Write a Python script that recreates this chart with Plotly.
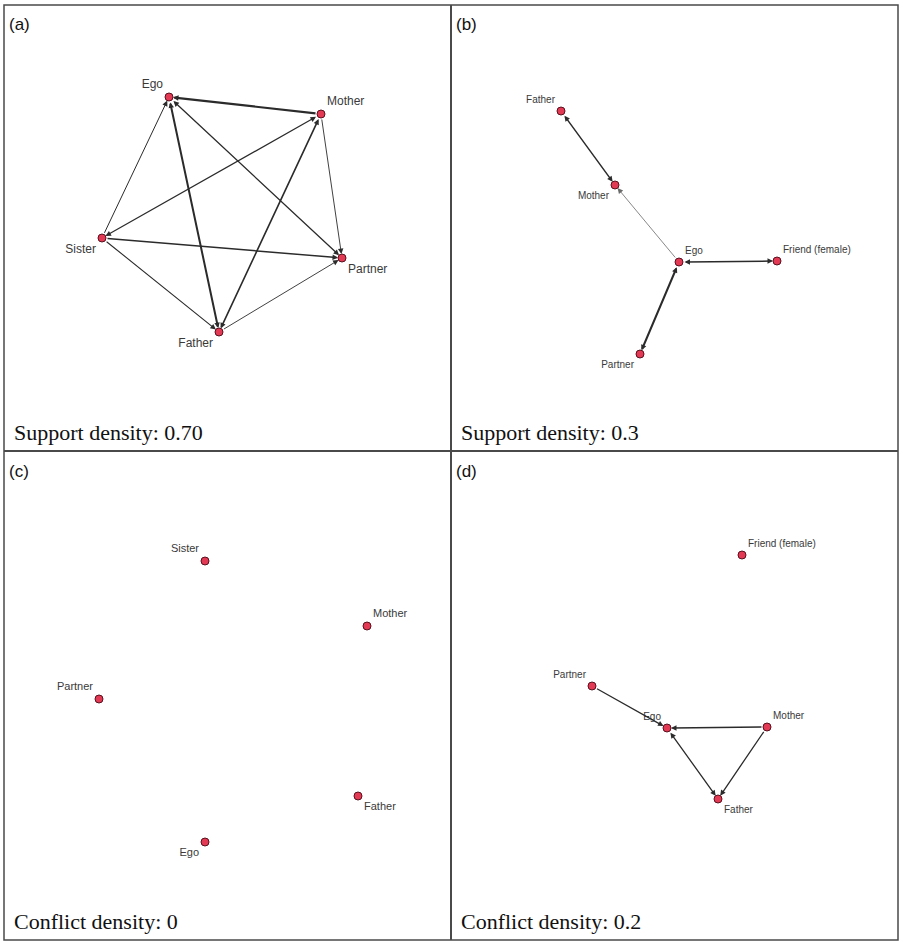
import plotly.graph_objects as go

# ---------------- data ----------------
# node layout coordinates (local pixel units inside each panel, y downward)
a_nodes = ["Ego", "Mother", "Sister", "Partner", "Father"]
a_x = [165, 317, 98, 338, 215]
a_y = [92, 109, 233, 253, 327]
a_src = ["Mother", "Sister", "Ego", "Ego", "Mother", "Mother", "Mother", "Sister", "Sister", "Father"]
a_tgt = ["Ego", "Ego", "Father", "Partner", "Sister", "Father", "Partner", "Partner", "Father", "Partner"]
a_mutual = [False, False, True, True, True, True, False, False, False, False]
a_weight = [2.2, 1.0, 2.0, 1.3, 1.2, 1.6, 0.9, 1.5, 1.1, 0.9]

b_nodes = ["Father", "Mother", "Ego", "Friend (female)", "Partner"]
b_x = [110, 164, 228, 326, 189]
b_y = [106, 180, 257, 256, 349]
b_src = ["Father", "Ego", "Ego", "Ego"]
b_tgt = ["Mother", "Mother", "Friend (female)", "Partner"]
b_mutual = [True, False, True, True]
b_weight = [1.5, 0.8, 1.5, 2.0]

c_nodes = ["Sister", "Mother", "Partner", "Father", "Ego"]
c_x = [201, 363, 95, 354, 201]
c_y = [110, 175, 248, 345, 391]
c_src, c_tgt, c_mutual, c_weight = [], [], [], []

d_nodes = ["Friend (female)", "Partner", "Ego", "Mother", "Father"]
d_x = [291, 141, 216, 316, 267]
d_y = [104, 235, 277, 276, 348]
d_src = ["Partner", "Mother", "Ego", "Mother"]
d_tgt = ["Ego", "Ego", "Father", "Father"]
d_mutual = [False, False, True, False]
d_weight = [1.3, 1.5, 1.3, 1.3]

panel_tags = ["(a)", "(b)", "(c)", "(d)"]
density_texts = ["Support density: 0.70", "Support density: 0.3",
                 "Conflict density: 0", "Conflict density: 0.2"]

# ---------------- layout / styling ----------------
W, H = 900, 941
# panel boxes in page pixels: left, top, right, bottom
boxes = [(4, 5, 451, 451), (451, 5, 898, 451), (4, 451, 451, 940), (451, 451, 898, 940)]
label_pos = [
    ["top left", "top right", "bottom left", "bottom right", "bottom left"],
    ["top left", "bottom left", "top right", "top right", "bottom left"],
    ["top left", "top right", "top left", "bottom right", "bottom left"],
    ["top right", "top left", "top left", "top right", "bottom right"],
]
label_size = [12, 10, 11, 10]

panels = [
    (a_nodes, a_x, a_y, a_src, a_tgt, a_mutual, a_weight),
    (b_nodes, b_x, b_y, b_src, b_tgt, b_mutual, b_weight),
    (c_nodes, c_x, c_y, c_src, c_tgt, c_mutual, c_weight),
    (d_nodes, d_x, d_y, d_src, d_tgt, d_mutual, d_weight),
]

SANS = "Liberation Sans, Arial, sans-serif"
SERIF = "Liberation Serif, Times New Roman, serif"
NODE_FILL = "#e23a55"
NODE_LINE = "#5c0f1c"
EDGE_COL = "#2b2b2b"

fig = go.Figure()
annotations = []
layout_axes = {}

for i, (nodes, xs, ys, src, tgt, mut, wts) in enumerate(panels):
    n = i + 1
    xa = "x" if n == 1 else f"x{n}"
    ya = "y" if n == 1 else f"y{n}"
    l, t, r, b = boxes[i]
    pw, ph = r - l, b - t
    layout_axes["xaxis" if n == 1 else f"xaxis{n}"] = dict(
        domain=[l / W, r / W], range=[0, pw], visible=False, fixedrange=True,
        anchor=ya)
    layout_axes["yaxis" if n == 1 else f"yaxis{n}"] = dict(
        domain=[1 - b / H, 1 - t / H], range=[ph, 0], visible=False, fixedrange=True,
        anchor=xa)

    idx = {name: k for k, name in enumerate(nodes)}
    for s, tg, m, w in zip(src, tgt, mut, wts):
        annotations.append(dict(
            x=xs[idx[tg]], y=ys[idx[tg]], ax=xs[idx[s]], ay=ys[idx[s]],
            xref=xa, yref=ya, axref=xa, ayref=ya, text="", showarrow=True,
            arrowhead=2, startarrowhead=2, arrowside="end+start" if m else "end",
            arrowwidth=w, arrowsize=1.1 / w, startarrowsize=1.1 / w,
            arrowcolor=EDGE_COL if w > 0.85 else "#6a6a6a",
            standoff=4, startstandoff=4))

    fig.add_trace(go.Scatter(
        x=xs, y=ys, xaxis=xa, yaxis=ya, mode="markers+text",
        text=nodes, textposition=label_pos[i],
        textfont=dict(family=SANS, size=label_size[i], color="#3a3a3a"),
        marker=dict(size=8, color=NODE_FILL, line=dict(color=NODE_LINE, width=1)),
        hoverinfo="text", showlegend=False, cliponaxis=False))

    # panel tag and density caption
    annotations.append(dict(
        x=(l + 3) / W, y=1 - (t + 20) / H, xref="paper", yref="paper",
        xanchor="left", yanchor="middle", text=panel_tags[i], showarrow=False,
        font=dict(family=SANS, size=17, color="#111111")))
    annotations.append(dict(
        x=(l + 8) / W, y=1 - (b - 19) / H, xref="paper", yref="paper",
        xanchor="left", yanchor="middle", text=density_texts[i], showarrow=False,
        font=dict(family=SERIF, size=22, color="#111111")))

shapes = [
    dict(type="rect", xref="paper", yref="paper", x0=4 / W, x1=898 / W,
         y0=1 - 940 / H, y1=1 - 5 / H, line=dict(color="#4a4a4a", width=1.5)),
    dict(type="line", xref="paper", yref="paper", x0=451 / W, x1=451 / W,
         y0=1 - 940 / H, y1=1 - 5 / H, line=dict(color="#4a4a4a", width=2)),
    dict(type="line", xref="paper", yref="paper", x0=4 / W, x1=898 / W,
         y0=1 - 451 / H, y1=1 - 451 / H, line=dict(color="#4a4a4a", width=2)),
]

fig.update_layout(
    width=W, height=H, margin=dict(l=0, r=0, t=0, b=0),
    paper_bgcolor="white", plot_bgcolor="white",
    annotations=annotations, shapes=shapes, showlegend=False,
    **layout_axes)

fig.write_html(
    "out.html",
    config={"displayModeBar": False},
    post_script="document.body.style.margin='0';document.body.style.overflow='hidden';",
)
